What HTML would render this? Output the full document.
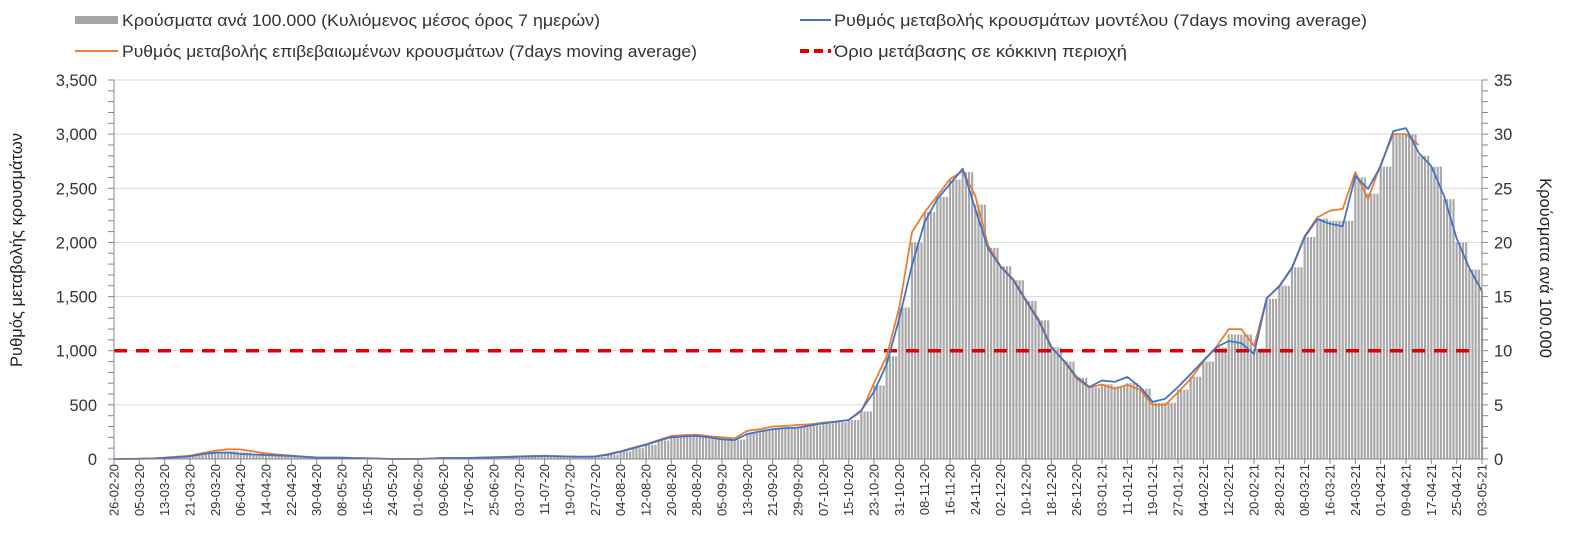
<!DOCTYPE html>
<html><head><meta charset="utf-8">
<style>
body{margin:0;background:#fff;}
svg{display:block;font-family:"Liberation Sans",sans-serif;}
</style></head>
<body>
<svg id="chart" width="1582" height="548" viewBox="0 0 1582 548" xmlns="http://www.w3.org/2000/svg">
<g id="legend">
  <g>
    <rect x="75" y="16" width="43" height="8" fill="#a6a6a6"/>
    <text x="122" y="26" font-size="16.5" textLength="478" lengthAdjust="spacingAndGlyphs" fill="#333">Κρούσματα ανά 100.000 (Κυλιόμενος μέσος όρος 7 ημερών)</text>
  </g>
  <g>
    <line x1="800" y1="20" x2="831" y2="20" stroke="#4472c4" stroke-width="2"/>
    <text x="834" y="26" font-size="16.5" textLength="533" lengthAdjust="spacingAndGlyphs" fill="#333">Ρυθμός μεταβολής κρουσμάτων μοντέλου (7days moving average)</text>
  </g>
  <g>
    <line x1="75" y1="51" x2="118" y2="51" stroke="#ed7d31" stroke-width="2"/>
    <text x="122" y="57" font-size="16.5" textLength="575" lengthAdjust="spacingAndGlyphs" fill="#333">Ρυθμός μεταβολής επιβεβαιωμένων κρουσμάτων (7days moving average)</text>
  </g>
  <g>
    <line x1="800" y1="51" x2="831" y2="51" stroke="#e00000" stroke-width="4" stroke-dasharray="9,5"/>
    <text x="834" y="57" font-size="16.5" textLength="293" lengthAdjust="spacingAndGlyphs" fill="#333">Όριο μετάβασης σε κόκκινη περιοχή</text>
  </g>
</g>
<g id="grid"></g>
<g id="bars"></g>
<g id="lines"></g>
<g id="axes"></g>
<text transform="translate(22,250) rotate(-90)" text-anchor="middle" font-size="16.5" fill="#222">Ρυθμός μεταβολής κρουσμάτων</text>
<text transform="translate(1540,268) rotate(90)" text-anchor="middle" font-size="16.5" fill="#222">Κρούσματα ανά 100.000</text>
</svg>
<script>
const blueRate = [0,1,2,5,10,18,25,45,58,60,46,42,37,32,28,20,12,12,12,8,6,3,0,0,0,4,9,9,9,12,15,18,22,25,28,25,22,20,22,40,68,100,130,170,200,210,213,200,182,175,231,255,275,285,290,310,330,345,360,450,620,877,1300,1790,2190,2400,2540,2680,2310,1945,1775,1650,1460,1275,1030,908,757,665,725,712,757,665,527,557,665,785,907,1030,1090,1070,970,1487,1593,1763,2050,2216,2172,2150,2613,2493,2705,3028,3056,2827,2705,2431,2035,1763,1550];
const orangeRate = [0,1,2,6,12,22,30,55,77,90,89,70,52,40,32,22,15,14,13,9,7,4,1,0,0,5,10,10,10,14,17,20,25,28,30,27,24,22,25,45,72,105,135,175,213,220,225,210,200,190,260,275,300,305,315,320,335,345,360,440,700,950,1400,2095,2280,2430,2585,2660,2430,1975,1780,1660,1470,1290,1040,900,740,660,688,648,685,640,500,500,617,740,900,1030,1200,1200,1043,1480,1600,1770,2060,2230,2293,2310,2650,2400,2720,3000,3000,2900];
const casesPer100k = [0,0,0.1,0.1,0.2,0.3,0.4,0.5,0.6,0.7,0.6,0.5,0.4,0.3,0.3,0.2,0.2,0.1,0.1,0.1,0.1,0,0,0,0,0,0.1,0.1,0.1,0.1,0.2,0.2,0.2,0.3,0.3,0.3,0.2,0.2,0.2,0.4,0.7,1.0,1.3,1.7,2.0,2.1,2.2,2.1,1.9,1.8,2.4,2.6,2.8,2.9,3.0,3.1,3.3,3.4,3.6,4.4,6.8,9.5,14.0,20.0,22.8,24.2,25.8,26.5,23.5,19.5,17.8,16.5,14.6,12.8,10.3,9.0,7.5,6.6,6.9,6.7,7.0,6.5,5.2,5.2,6.4,7.6,9.0,10.3,11.5,11.5,10.2,14.8,16.0,17.7,20.5,22.2,22.0,22.0,26.0,24.5,27.0,30.0,30.0,28.0,27.0,24.0,20.0,17.5,15.5];
const dayStep = 4;
const tickLabels = ["26-02-20","05-03-20","13-03-20","21-03-20","29-03-20","06-04-20","14-04-20","22-04-20","30-04-20","08-05-20","16-05-20","24-05-20","01-06-20","09-06-20","17-06-20","25-06-20","03-07-20","11-07-20","19-07-20","27-07-20","04-08-20","12-08-20","20-08-20","28-08-20","05-09-20","13-09-20","21-09-20","29-09-20","07-10-20","15-10-20","23-10-20","31-10-20","08-11-20","16-11-20","24-11-20","02-12-20","10-12-20","18-12-20","26-12-20","03-01-21","11-01-21","19-01-21","27-01-21","04-02-21","12-02-21","20-02-21","28-02-21","08-03-21","16-03-21","24-03-21","01-04-21","09-04-21","17-04-21","25-04-21","03-05-21"];
const leftTicks = [0,500,1000,1500,2000,2500,3000,3500];
const rightTicks = [0,5,10,15,20,25,30,35];
const threshold = 1000;

const NS="http://www.w3.org/2000/svg";
const X0=114, X1=1482, Y0=459, Y1=80, totalDays=432, maxL=3500, maxR=35;
const xDay = d => X0 + (X1-X0)*d/totalDays;
const yL = v => Y0 - (Y0-Y1)*v/maxL;
const yR = v => Y0 - (Y0-Y1)*v/maxR;
function mk(tag, attrs, parent){const e=document.createElementNS(NS,tag);for(const k in attrs)e.setAttribute(k,attrs[k]);parent.appendChild(e);return e;}

const grid=document.getElementById('grid'), axes=document.getElementById('axes');
leftTicks.forEach(v=>{
  if(v>0){const g=mk('line',{x1:X0,x2:X1,y1:yL(v),y2:yL(v),stroke:'#d9d9d9','stroke-width':1},grid);
  
  }
  const t=mk('text',{x:97,y:yL(v)+6,'text-anchor':'end','font-size':16.5,fill:'#333'},axes);
  t.textContent=v.toLocaleString('en-US');
  
  
});
rightTicks.forEach(v=>{
  const t=mk('text',{x:1494,y:yR(v)+6,'font-size':16.5,fill:'#333'},axes);
  t.textContent=v;
  
  
});
for(let v=0;v<=maxL;v+=100){
  mk('line',{x1:X0-6,x2:X0,y1:yL(v),y2:yL(v),stroke:'#888'},axes);
  mk('line',{x1:X1,x2:X1+6,y1:yL(v),y2:yL(v),stroke:'#888'},axes);
}
mk('line',{x1:X0,x2:X0,y1:Y1,y2:Y0,stroke:'#888'},axes);
mk('line',{x1:X1,x2:X1,y1:Y1,y2:Y0,stroke:'#888'},axes);
mk('line',{x1:X0,x2:X1,y1:Y0,y2:Y0,stroke:'#888'},axes);
tickLabels.forEach((lab,i)=>{
  const x=xDay(i*8);
  mk('line',{x1:x,x2:x,y1:Y0,y2:Y0+5,stroke:'#888'},axes);
  const t=mk('text',{transform:`translate(${x+4.5},464) rotate(-90)`,'text-anchor':'end','font-size':13,fill:'#333'},axes);
  t.textContent=lab;
  
  
});

const bars=document.getElementById('bars');
casesPer100k.forEach((v,i)=>{
  for(let k=0;k<dayStep;k++){
    const d=i*dayStep+k; if(d>totalDays) break;
    const b=mk('rect',{x:xDay(d)-1.1,y:yR(v),width:2.2,height:Y0-yR(v),fill:'#a8a8a8'},bars);
    
    
  }
});

const lines=document.getElementById('lines');
const thr=mk('line',{x1:X0,x2:X1-8,y1:yL(threshold),y2:yL(threshold),stroke:'#e00000','stroke-width':3.5,'stroke-dasharray':'13,9'},lines);


function path(arr,color,name){
  const d=arr.map((v,i)=>(i?'L':'M')+xDay(i*dayStep).toFixed(1)+','+yL(v).toFixed(1)).join('');
  const p=mk('path',{d:d,fill:'none',stroke:color,'stroke-width':1.8,'stroke-linejoin':'round'},lines);
  
  
}
path(orangeRate,'#ed7d31','confirmed-rate-line');
path(blueRate,'#4472c4','model-rate-line');
</script>
</body></html>
